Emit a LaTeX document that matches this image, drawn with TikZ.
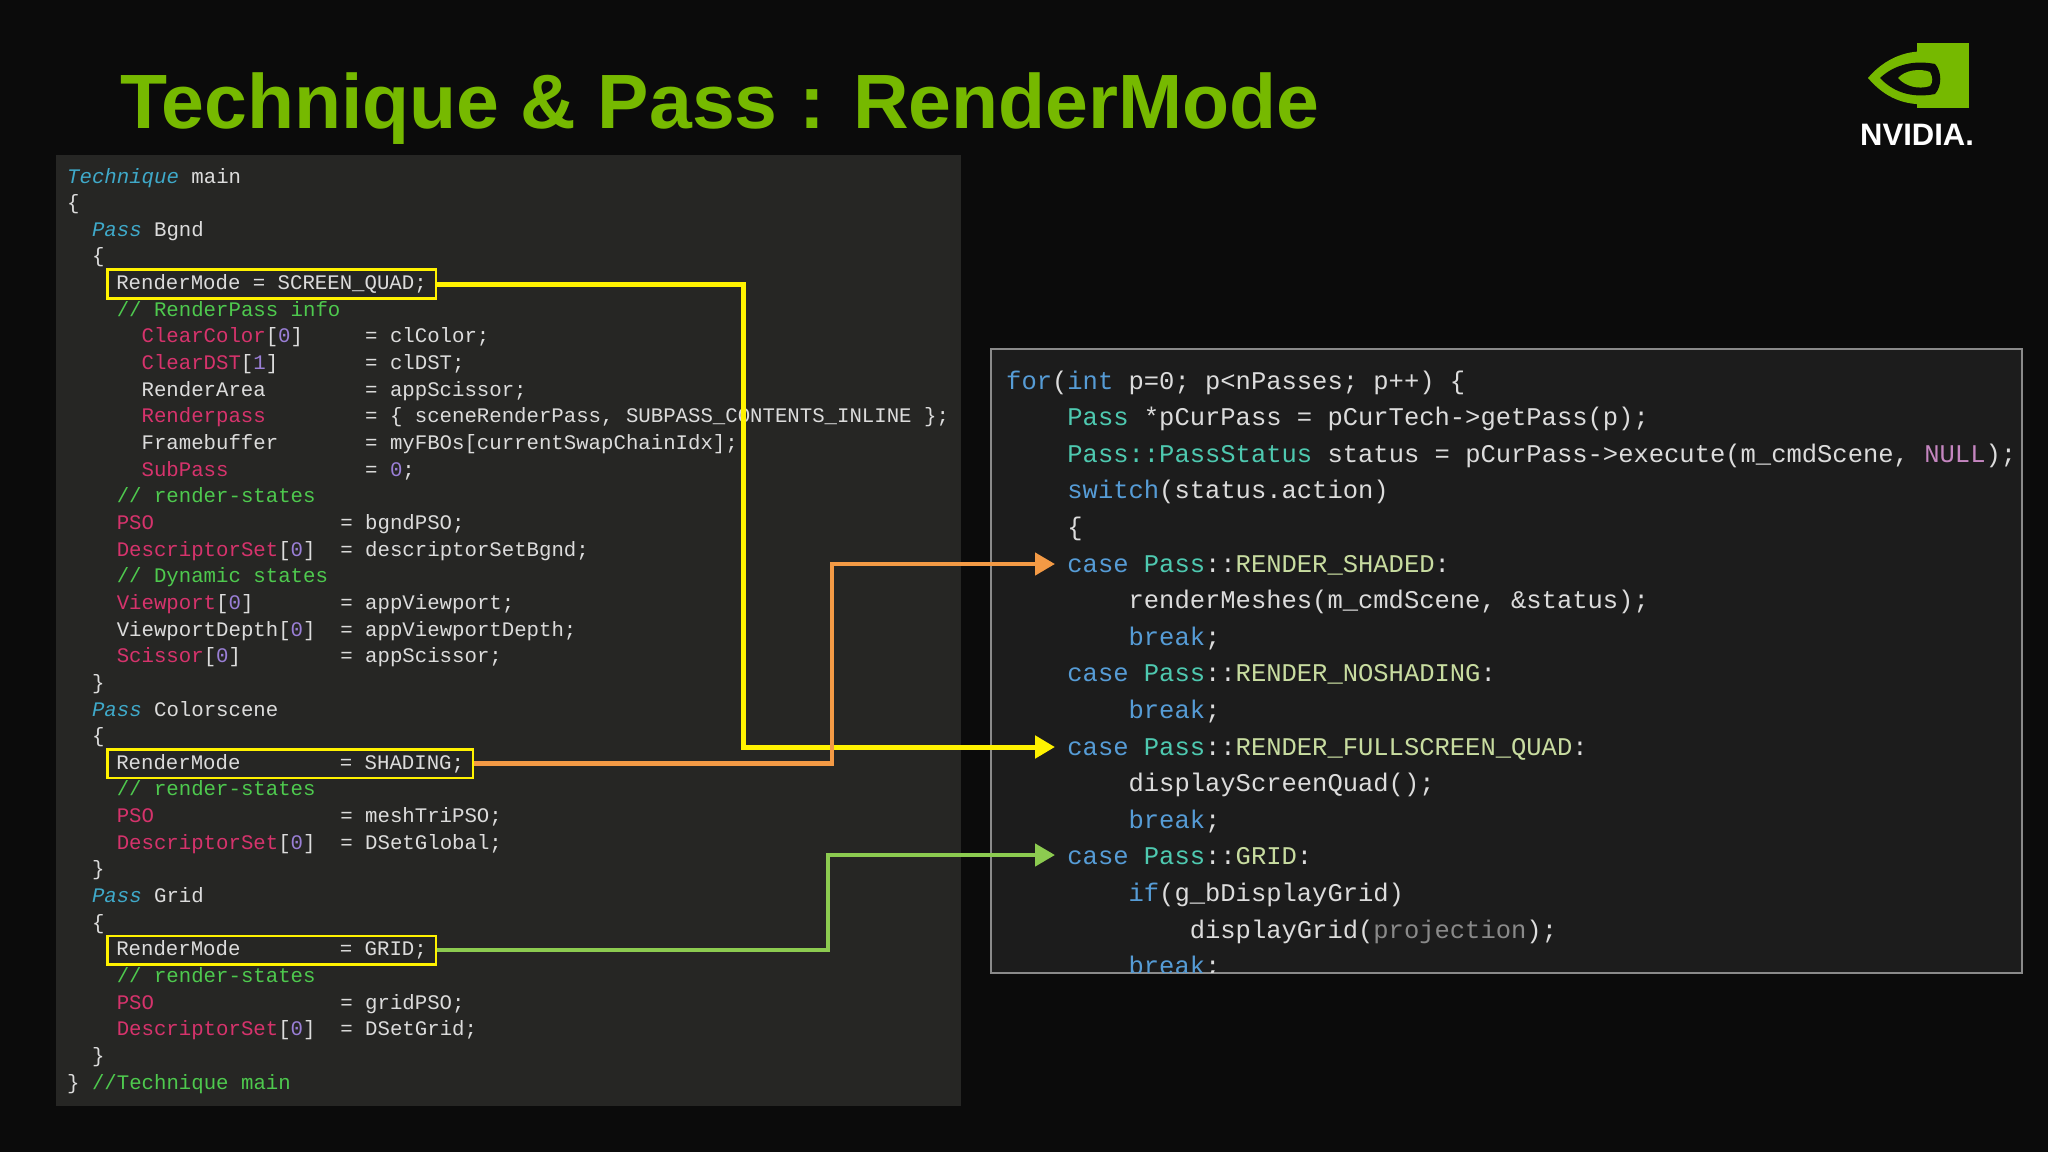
\documentclass[tikz,border=0pt]{standalone}
\usepackage{fontspec}
\usetikzlibrary{arrows.meta}
\setmainfont{Liberation Sans}
\newfontfamily\mono{Liberation Mono}
\definecolor{bg}{HTML}{0B0B0B}
\definecolor{lpanel}{HTML}{262624}
\definecolor{rpanel}{HTML}{1C1C1C}
\definecolor{txt}{HTML}{DCDCDC}
\definecolor{kwc}{HTML}{3FA9C9}
\definecolor{cmc}{HTML}{4EC94E}
\definecolor{prc}{HTML}{D6336C}
\definecolor{nmc}{HTML}{9A7FD6}
\definecolor{bkw}{HTML}{569CD6}
\definecolor{tyc}{HTML}{4EC9B0}
\definecolor{enc}{HTML}{C8DCA0}
\definecolor{nlc}{HTML}{C586C0}
\definecolor{grc}{HTML}{8A8A8A}
\definecolor{nvgreen}{HTML}{76B900}
\definecolor{ylw}{HTML}{FFF200}
\definecolor{org}{HTML}{F39A45}
\definecolor{grn}{HTML}{8CCB50}
\newcommand\KW[1]{\textcolor{kwc}{\itshape #1}}
\newcommand\CM[1]{\textcolor{cmc}{#1}}
\newcommand\PR[1]{\textcolor{prc}{#1}}
\newcommand\NM[1]{\textcolor{nmc}{#1}}
\newcommand\BK[1]{\textcolor{bkw}{#1}}
\newcommand\TY[1]{\textcolor{tyc}{#1}}
\newcommand\EN[1]{\textcolor{enc}{#1}}
\newcommand\NL[1]{\textcolor{nlc}{#1}}
\newcommand\GR[1]{\textcolor{grc}{#1}}
\newcommand\SP[1]{\hspace*{#1\dimexpr0.6em\relax}}
\tikzset{
  lc/.style={anchor=base west,inner sep=0pt,text=txt,font=\mono\fontsize{20.7}{24}\selectfont},
  rc/.style={anchor=base west,inner sep=0pt,text=txt,font=\mono\fontsize{25.5}{30}\selectfont},
  rmbox/.style={draw=ylw,line width=2.5pt,inner xsep=9pt,inner ysep=5pt,anchor=base west,text=txt,font=\mono\fontsize{20.7}{24}\selectfont},
  conn/.style={line width=5pt,-{Triangle[length=20pt,width=22pt]}},
}
\newcommand\LL[3]{\node[lc] at ({67+#2*12.4},{183+#1*26.65}) {#3};}
\newcommand\RL[3]{\node[rc] at ({1006+#2*15.3},{389+#1*36.6}) {#3};}
\begin{document}
\begin{tikzpicture}[x=1pt,y=-1pt]
\useasboundingbox (0,0) rectangle (2048,1152);
\fill[bg] (0,0) rectangle (2048,1152);
% title
\node[anchor=base west,inner sep=0pt,text=nvgreen,font=\bfseries\fontsize{77}{90}\selectfont] (title) at (120,128) {Technique \& Pass : RenderMode};
% logo
\fill[nvgreen] (1917,43) rectangle (1969,108);
\fill[nvgreen] (1868,78) .. controls (1890,52) and (1917,50) .. (1930,52) -- (1930,104) .. controls (1905,106) and (1885,98) .. (1868,78);
\fill[bg] (1880,78) .. controls (1895,64) and (1915,60) .. (1935,64) .. controls (1942,72) and (1942,86) .. (1935,94) .. controls (1915,98) and (1895,94) .. (1880,78);
\fill[nvgreen] (1898,78) .. controls (1905,70) and (1920,68) .. (1930,72) .. controls (1933,78) and (1933,82) .. (1930,86) .. controls (1918,90) and (1905,86) .. (1898,78);
\node[anchor=base west,inner sep=0pt,text=white,font=\bfseries\fontsize{31}{34}\selectfont] (logo) at (1860,145) {NVIDIA.};
% panels
\fill[lpanel] (56,155) rectangle (961,1106);
\fill[rpanel] (991,349) rectangle (2022,973);
\draw[grc,line width=1.5pt] (991,349) rectangle (2022,973);
% left code
\LL{0}{0}{\KW{Technique} main}
\LL{1}{0}{\{}
\LL{2}{2}{\KW{Pass} Bgnd}
\LL{3}{2}{\{}
\node[rmbox] (b1) at (106,{183+4*26.65}) {RenderMode = SCREEN\_QUAD;};
\LL{5}{4}{\CM{// RenderPass info}}
\LL{6}{6}{\PR{ClearColor}[\NM{0}]\SP{5}= clColor;}
\LL{7}{6}{\PR{ClearDST}[\NM{1}]\SP{7}= clDST;}
\LL{8}{6}{RenderArea\SP{8}= appScissor;}
\LL{9}{6}{\PR{Renderpass}\SP{8}= \{ sceneRenderPass, SUBPASS\_CONTENTS\_INLINE \};}
\LL{10}{6}{Framebuffer\SP{7}= myFBOs[currentSwapChainIdx];}
\LL{11}{6}{\PR{SubPass}\SP{11}= \NM{0};}
\LL{12}{4}{\CM{// render-states}}
\LL{13}{4}{\PR{PSO}\SP{15}= bgndPSO;}
\LL{14}{4}{\PR{DescriptorSet}[\NM{0}]\SP{2}= descriptorSetBgnd;}
\LL{15}{4}{\CM{// Dynamic states}}
\LL{16}{4}{\PR{Viewport}[\NM{0}]\SP{7}= appViewport;}
\LL{17}{4}{ViewportDepth[\NM{0}]\SP{2}= appViewportDepth;}
\LL{18}{4}{\PR{Scissor}[\NM{0}]\SP{8}= appScissor;}
\LL{19}{2}{\}}
\LL{20}{2}{\KW{Pass} Colorscene}
\LL{21}{2}{\{}
\node[rmbox] (b2) at (106,{183+22*26.65}) {RenderMode\SP{8}= SHADING;};
\LL{23}{4}{\CM{// render-states}}
\LL{24}{4}{\PR{PSO}\SP{15}= meshTriPSO;}
\LL{25}{4}{\PR{DescriptorSet}[\NM{0}]\SP{2}= DSetGlobal;}
\LL{26}{2}{\}}
\LL{27}{2}{\KW{Pass} Grid}
\LL{28}{2}{\{}
\node[rmbox] (b3) at (106,{183+29*26.65}) {RenderMode\SP{8}= GRID;};
\LL{30}{4}{\CM{// render-states}}
\LL{31}{4}{\PR{PSO}\SP{15}= gridPSO;}
\LL{32}{4}{\PR{DescriptorSet}[\NM{0}]\SP{2}= DSetGrid;}
\LL{33}{2}{\}}
\LL{34}{0}{\} \CM{//Technique main}}
% right code
\begin{scope}
\clip (991,349) rectangle (2022,972);
\RL{0}{0}{\BK{for}(\BK{int} p=0; p<nPasses; p++) \{}
\RL{1}{4}{\TY{Pass} *pCurPass = pCurTech->getPass(p);}
\RL{2}{4}{\TY{Pass::PassStatus} status = pCurPass->execute(m\_cmdScene, \NL{NULL});}
\RL{3}{4}{\BK{switch}(status.action)}
\RL{4}{4}{\{}
\node[rc] (r1) at ({1006+4*15.3},{389+5*36.6}) {\BK{case} \TY{Pass}::\EN{RENDER\_SHADED}:};
\RL{6}{8}{renderMeshes(m\_cmdScene, \&status);}
\RL{7}{8}{\BK{break};}
\RL{8}{4}{\BK{case} \TY{Pass}::\EN{RENDER\_NOSHADING}:}
\RL{9}{8}{\BK{break};}
\node[rc] (r2) at ({1006+4*15.3},{389+10*36.6}) {\BK{case} \TY{Pass}::\EN{RENDER\_FULLSCREEN\_QUAD}:};
\RL{11}{8}{displayScreenQuad();}
\RL{12}{8}{\BK{break};}
\node[rc] (r3) at ({1006+4*15.3},{389+13*36.6}) {\BK{case} \TY{Pass}::\EN{GRID}:};
\RL{14}{8}{\BK{if}(g\_bDisplayGrid)}
\RL{15}{12}{displayGrid(\GR{projection});}
\RL{16}{8}{\BK{break};}
\end{scope}
% connectors
\coordinate (e1) at (1055,564);
\coordinate (e2) at (1055,747);
\coordinate (e3) at (1055,855);
\draw[conn,ylw] (b1.east) -- (b1.east -| 743,0) -- (743,747) -- (e2);
\draw[conn,org,line width=4.5pt] (b2.east) -- (b2.east -| 832,0) -- (832,564) -- (e1);
\draw[conn,grn,line width=4.5pt] (b3.east) -- (b3.east -| 828,0) -- (828,855) -- (e3);
\end{tikzpicture}
\end{document}
